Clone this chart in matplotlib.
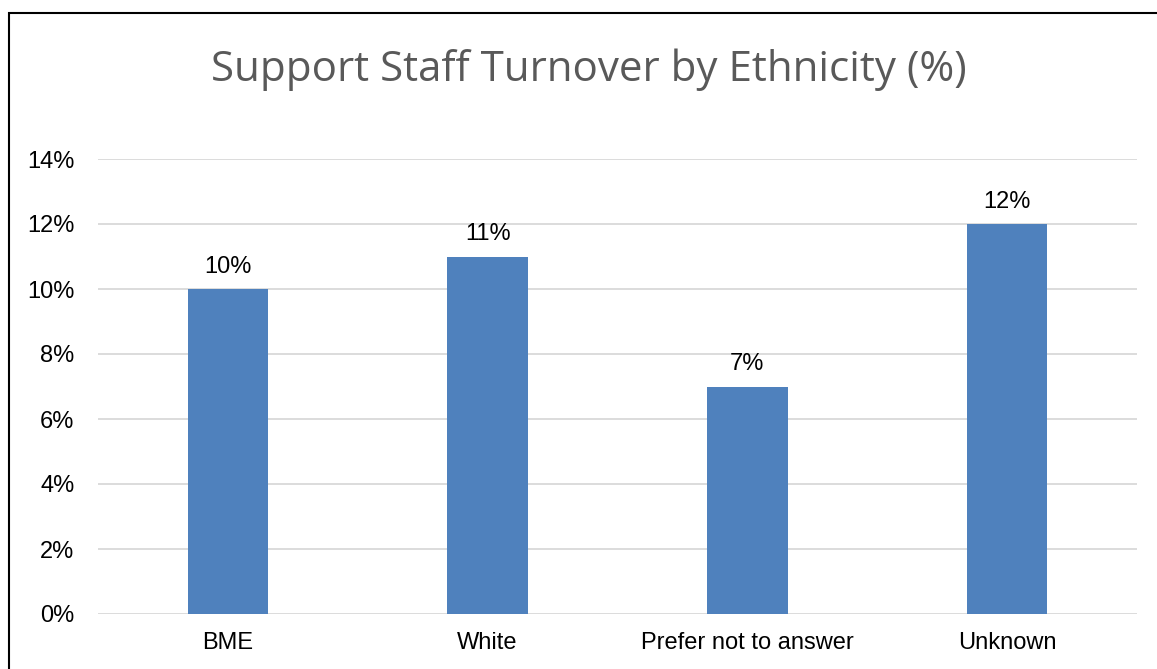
import matplotlib
matplotlib.use("Agg")
import matplotlib.pyplot as plt
from matplotlib.patches import Rectangle
from matplotlib.ticker import PercentFormatter

categories = ["BME", "White", "Prefer not to answer", "Unknown"]
turnover = [10, 11, 7, 12]
yticks = [0, 2, 4, 6, 8, 10, 12, 14]

fig = plt.figure(figsize=(11.57, 6.69), dpi=100)
ax = fig.add_axes([98 / 1157, 1 - 614 / 669, 1039 / 1157, 455 / 669])

# outer chart border (runs off the right and bottom edges)
fig.patches.append(Rectangle((9 / 1157, -0.05), 1.2, 1 - 13 / 669 + 0.05,
                             transform=fig.transFigure, fill=False,
                             edgecolor="black", linewidth=1.5))

x = range(len(categories))
bars = ax.bar(x, turnover, width=0.31, color="#4F81BD", zorder=3)
for b, v in zip(bars, turnover):
    ax.annotate(f"{v}%", (b.get_x() + b.get_width() / 2, v),
                xytext=(0, 8), textcoords="offset points",
                ha="center", va="bottom", fontsize=17,
                family="Liberation Sans", color="black")

ax.set_xlim(-0.5, 3.5)
ax.set_ylim(0, 14)
ax.set_yticks(yticks)
ax.yaxis.set_major_formatter(PercentFormatter(decimals=0))
ax.set_xticks(list(x))
ax.set_xticklabels(categories)
for lab in ax.get_xticklabels() + ax.get_yticklabels():
    lab.set_family("Liberation Sans")
    lab.set_fontsize(17)
ax.tick_params(axis="x", length=0, pad=13)
ax.tick_params(axis="y", length=0, pad=17)
ax.grid(axis="y", color="#D9D9D9", linewidth=1.3, zorder=0)
for s in ax.spines.values():
    s.set_visible(False)

fig.text(589 / 1157, 1 - 70 / 669, "Support Staff Turnover by Ethnicity (%)",
         ha="center", va="center", fontsize=30.3, family="Open Sans",
         color="#595959")

fig.savefig("out.png", dpi=100)
